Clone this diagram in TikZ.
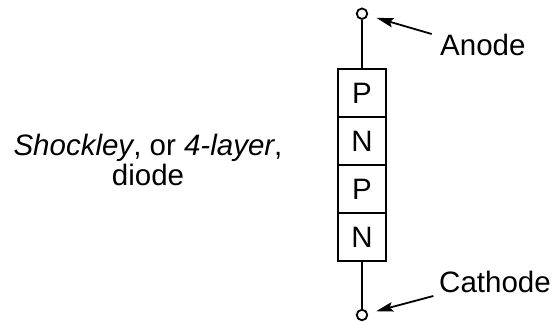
\documentclass[tikz,border=0pt]{standalone}
\usepackage{fontspec}
\setmainfont{Liberation Sans}
\usetikzlibrary{arrows.meta}
\begin{document}
\begin{tikzpicture}[x=1pt,y=-1pt,
  wire/.style={line width=1.8pt},
  layer/.style={draw,line width=1.8pt,minimum width=47.5pt,minimum height=48pt,inner sep=0pt,font=\fontsize{29.5}{30.6}\selectfont},
  term/.style={draw,circle,line width=1.8pt,minimum size=10.5pt,inner sep=0pt,fill=white},
  lbl/.style={inner sep=0pt,font=\fontsize{29.5}{30.6}\selectfont},
  pointer/.style={line width=1.8pt,-{Stealth[length=17pt,width=9.5pt,inset=3pt]}}]
\useasboundingbox (0,0) rectangle (554,322);
\node[layer] (l1) at (362,93) {P};
\node[layer] (l2) at (362,141) {N};
\node[layer] (l3) at (362,189) {P};
\node[layer] (l4) at (362,237) {N};
\node[term] (ta) at (362,13.7) {};
\node[term] (tk) at (362,315) {};
\draw[wire] (ta) -- (l1);
\draw[wire] (l4) -- (tk);
\node[lbl,anchor=base west] (alab) at (440,55) {Anode};
\node[lbl,anchor=base west] (klab) at (439,292.7) {Cathode};
\coordinate (as) at (431.7,34);
\coordinate (ks) at (433.3,296);
\draw[pointer,shorten >=9pt] (as) -- (ta);
\draw[pointer,shorten >=8.5pt] (ks) -- (tk);
\node[lbl,align=center] (desc) at (148,160) {\textit{Shockley}, or \textit{4-layer},\\diode};
\end{tikzpicture}
\end{document}
